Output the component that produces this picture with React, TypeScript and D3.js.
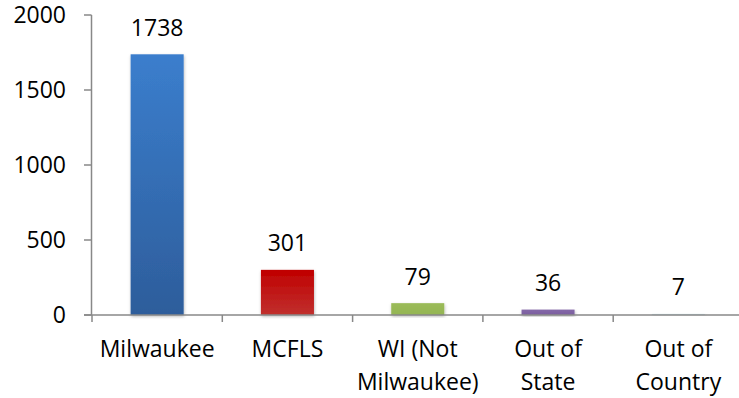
import React from "react";
import * as d3 from "d3";

// Origin of registered users, by location
const categories = ["Milwaukee", "MCFLS", "WI (Not Milwaukee)", "Out of State", "Out of Country"];
const categoryLines = [["Milwaukee"], ["MCFLS"], ["WI (Not", "Milwaukee)"], ["Out of", "State"], ["Out of", "Country"]];
const values = [1738, 301, 79, 36, 7];
const yTicks = [0, 500, 1000, 1500, 2000];
const barTop = ["#3b7ecd", "#c00000", "#9bbb59", "#8468a8", "#c9e3ea"];
const barBottom = ["#2d5d9b", "#c0302e", "#94b553", "#7b5f9f", "#bcdbe4"];

const W = 739;
const H = 398;
const FONT = "'Open Sans', 'Noto Sans', sans-serif";
const AXIS = "#888888";

export default function App() {
  const x = d3.scaleBand<string>().domain(categories).range([92, 743.5]).padding(0);
  const y = d3.scaleLinear().domain([0, 2000]).range([315, 15]);
  const barW = x.bandwidth() * 0.407;
  const fs = 23;

  return (
    <svg
      width={W}
      height={H}
      style={{ position: "absolute", left: 0, top: 0, background: "#fff" }}
      fontFamily={FONT}
    >
      <defs>
        {categories.map((c, i) => (
          <linearGradient key={c} id={`g${i}`} x1="0" y1="0" x2="0" y2="1">
            <stop offset="0" stopColor={barTop[i]} />
            <stop offset="1" stopColor={barBottom[i]} />
          </linearGradient>
        ))}
        <filter id="shadow" x="-30%" y="-10%" width="160%" height="130%">
          <feDropShadow dx="0.5" dy="1.5" stdDeviation="1.6" floodColor="#000" floodOpacity="0.28" />
        </filter>
      </defs>

      {/* bars */}
      {categories.map((c, i) => {
        const cx = (x(c) as number) + x.bandwidth() / 2;
        return (
          <rect
            key={c}
            x={cx - barW / 2}
            y={y(values[i])}
            width={barW}
            height={y(0) - y(values[i])}
            fill={`url(#g${i})`}
            filter="url(#shadow)"
          />
        );
      })}

      {/* value labels */}
      {categories.map((c, i) => {
        const cx = (x(c) as number) + x.bandwidth() / 2;
        return (
          <text key={c} x={cx} y={y(values[i]) - 18.5} textAnchor="middle" fontSize={fs} fill="#000">
            {values[i]}
          </text>
        );
      })}

      {/* y axis */}
      <line x1={91.5} x2={91.5} y1={y(2000)} y2={y(0)} stroke={AXIS} strokeWidth={1.5} />
      {yTicks.map((t) => (
        <g key={t}>
          <line x1={84} x2={91.5} y1={y(t)} y2={y(t)} stroke={AXIS} strokeWidth={1.5} />
          <text x={66} y={y(t) + 8} textAnchor="end" fontSize={fs} fill="#000">
            {t}
          </text>
        </g>
      ))}

      {/* x axis */}
      <line x1={84} x2={W} y1={y(0)} y2={y(0)} stroke={AXIS} strokeWidth={1.5} />
      {categories.map((c) => (
        <line key={c} x1={x(c) as number} x2={x(c) as number} y1={y(0)} y2={y(0) + 7} stroke={AXIS} strokeWidth={1.5} />
      ))}
      {categories.map((c, i) => {
        const cx = (x(c) as number) + x.bandwidth() / 2;
        return (
          <text key={c} textAnchor="middle" fontSize={fs} fill="#000">
            {categoryLines[i].map((line, j) => (
              <tspan key={j} x={cx} y={357 + j * 33}>
                {line}
              </tspan>
            ))}
          </text>
        );
      })}
    </svg>
  );
}
